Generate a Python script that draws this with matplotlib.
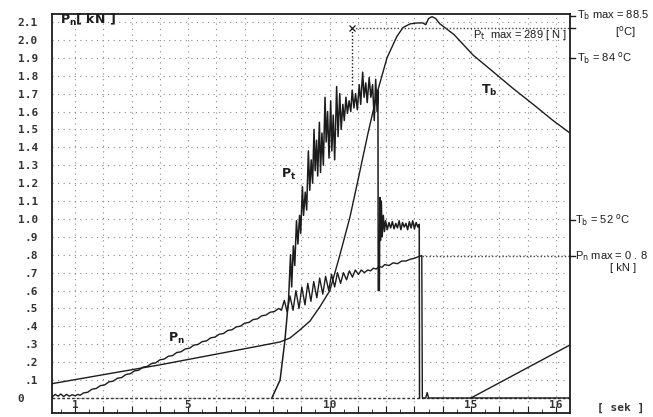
import matplotlib
matplotlib.use("Agg")
import matplotlib.pyplot as plt
import numpy as np

# time [s] on x; all curves drawn in the P_n [kN] scale of the recorder chart
tb_t = [0.19, 2.0, 4.0, 6.0, 7.5, 8.25, 8.6, 8.95, 9.31, 9.66, 10.01, 10.35, 10.72,
        11.05, 11.36, 11.71, 12.03, 12.38, 12.6, 12.85, 13.1, 13.3, 13.4, 13.5,
        13.62, 13.75, 13.9, 14.4, 15.07, 15.8, 16.48, 17.2, 17.9, 18.5]
tb_v = [0.080, 0.13, 0.185, 0.245, 0.29, 0.313, 0.335, 0.38, 0.43, 0.51, 0.60, 0.79, 1.01,
        1.25, 1.48, 1.72, 1.90, 2.02, 2.07, 2.09, 2.095, 2.095, 2.085, 2.12,
        2.13, 2.12, 2.09, 2.03, 1.916, 1.82, 1.73, 1.64, 1.55, 1.48]

# start of the next temperature cycle (bottom right)
tb2_t = [15.0, 18.5]
tb2_v = [0.0, 0.296]

pn_t = [0.19, 0.3, 0.4, 0.5, 0.6, 0.7, 0.8, 0.9, 1.0, 1.1, 1.18,
        1.30, 1.45, 1.60, 1.75, 1.90, 2.05, 2.20, 2.35, 2.50, 2.65, 2.80, 2.95,
        3.10, 3.25, 3.40, 3.55, 3.70, 3.85, 4.00, 4.15, 4.30, 4.45, 4.60, 4.75,
        4.90, 5.05, 5.20, 5.35, 5.50, 5.65, 5.80, 5.95, 6.10, 6.25, 6.40, 6.55,
        6.70, 6.85, 7.00, 7.15, 7.30, 7.45, 7.60, 7.75, 7.90, 8.05, 8.20,
        8.30, 8.40, 8.50, 8.60, 8.71, 8.81, 8.92, 9.02, 9.13, 9.23, 9.34, 9.44,
        9.55, 9.65, 9.76, 9.86, 9.97, 10.07, 10.18, 10.28, 10.39, 10.49, 10.60,
        10.70, 10.81, 10.91, 11.02, 11.12, 11.23,
        11.35, 11.45, 11.55, 11.65, 11.75, 11.85, 11.95, 12.1, 12.25, 12.4,
        12.55, 12.7, 12.85, 13.0, 13.15, 13.26, 13.28, 13.40, 13.45, 13.50, 18.5]
pn_v = [0.005, 0.02, 0.01, 0.022, 0.008, 0.02, 0.01, 0.018, 0.012, 0.02, 0.015,
        0.028, 0.032, 0.049, 0.053, 0.069, 0.073, 0.090, 0.094, 0.110, 0.114, 0.131, 0.135,
        0.151, 0.155, 0.172, 0.176, 0.192, 0.196, 0.213, 0.217, 0.233, 0.237, 0.254, 0.258,
        0.274, 0.278, 0.295, 0.299, 0.315, 0.319, 0.336, 0.340, 0.356, 0.360, 0.377, 0.381,
        0.397, 0.401, 0.418, 0.422, 0.438, 0.442, 0.459, 0.463, 0.479, 0.483, 0.500,
        0.49, 0.545, 0.48, 0.57, 0.49, 0.60, 0.50, 0.62, 0.52, 0.64, 0.54, 0.65,
        0.56, 0.67, 0.58, 0.68, 0.60, 0.69, 0.62, 0.70, 0.64, 0.70, 0.66,
        0.71, 0.675, 0.715, 0.69, 0.715, 0.70,
        0.715, 0.71, 0.725, 0.72, 0.735, 0.73, 0.745, 0.74, 0.755, 0.75,
        0.765, 0.765, 0.775, 0.78, 0.79, 0.795, 0.0, 0.0, 0.03, 0.0, 0.0]

pt_t = [7.96, 8.25, 8.42, 8.55, 8.62, 8.66, 8.72, 8.77, 8.83, 8.88, 8.94, 8.98,
        9.04, 9.08, 9.14, 9.19, 9.25, 9.30, 9.35, 9.40, 9.45, 9.49, 9.54, 9.58,
        9.64, 9.68, 9.73, 9.78, 9.84, 9.88, 9.93, 9.98, 10.04, 10.08, 10.13, 10.18,
        10.25, 10.30, 10.36, 10.41, 10.47, 10.52, 10.58, 10.63, 10.69, 10.75, 10.80,
        10.86, 10.92, 10.98, 11.05, 11.10, 11.17, 11.22, 11.28, 11.33, 11.40, 11.46,
        11.52, 11.58, 11.63, 11.68, 11.71, 11.72, 11.76, 11.78, 11.80, 11.83, 11.86,
        11.90, 11.94, 11.98, 12.04, 12.10, 12.16, 12.22, 12.28, 12.34, 12.40, 12.46,
        12.52, 12.58, 12.64, 12.70, 12.76, 12.82, 12.88, 12.94, 13.00, 13.06, 13.12,
        13.17, 13.18]
pt_v = [0.0, 0.10, 0.32, 0.55, 0.80, 0.62, 0.85, 0.74, 0.99, 0.86, 1.02, 0.92,
        1.18, 1.02, 1.15, 1.05, 1.38, 1.16, 1.33, 1.20, 1.50, 1.27, 1.44, 1.24,
        1.54, 1.26, 1.48, 1.30, 1.68, 1.43, 1.60, 1.34, 1.66, 1.38, 1.58, 1.33,
        1.74, 1.46, 1.70, 1.50, 1.64, 1.55, 1.68, 1.59, 1.66, 1.60, 1.72,
        1.62, 1.70, 1.61, 1.75, 1.64, 1.82, 1.68, 1.76, 1.65, 1.79, 1.68,
        1.75, 1.55, 1.78, 1.60, 1.72, 0.60, 0.60, 1.12, 0.88, 1.10, 0.90,
        1.02, 0.93, 0.99, 0.94, 0.98, 0.95, 0.985, 0.945, 0.975, 0.95, 0.99,
        0.94, 0.98, 0.955, 0.975, 0.94, 0.985, 0.95, 0.99, 0.945, 0.98, 0.955,
        0.97, 0.0]

pt_max_t, pt_max_mark, pt_max_curve = 10.79, 2.067, 1.74
pn_max_t, pn_max = 13.26, 0.793

y_ticks = [0.0, 0.1, 0.2, 0.3, 0.4, 0.5, 0.6, 0.7, 0.8, 0.9, 1.0,
           1.1, 1.2, 1.3, 1.4, 1.5, 1.6, 1.7, 1.8, 1.9, 2.0, 2.1]
y_labels = ["0  ", ".1", ".2", ".3", ".4", ".5", ".6", ".7", ".8", ".9", "1.0",
            "1.1", "1.2", "1.3", "1.4", "1.5", "1.6", "1.7", "1.8", "1.9", "2.0", "2.1"]
x_label_pos = [1, 5, 10, 15, 18]
x_labels = ["1", "5", "10", "15", "16"]

# right-hand marker positions (P_n scale)
right_marks = [2.134, 2.067, 1.90, 0.994, 0.793]

ink = "#1c1c1c"
mono = "DejaVu Sans Mono"
sans = "Liberation Sans"

fig = plt.figure(figsize=(6.53, 4.17), dpi=100)
ax = fig.add_axes([52 / 653, 4 / 417, 518 / 653, 399 / 417])
ax.set_xlim(0.187, 18.5)
ax.set_ylim(-0.084, 2.145)

# grid
ax.set_xticks(np.arange(1, 19))
ax.set_xticks(np.arange(0.5, 18.5, 0.5), minor=True)
ax.set_xticklabels([])
ax.set_yticks(y_ticks)
ax.set_yticklabels(y_labels, fontfamily=mono, fontsize=8, fontweight="bold", color="#333333")
ax.tick_params(axis="y", length=0, pad=10)
ax.tick_params(axis="x", which="major", direction="in", length=5, color=ink)
ax.tick_params(axis="x", which="minor", direction="in", length=3, color=ink)
ax.grid(True, which="major", color="#8a8a8a", linestyle=(0, (1, 4)), linewidth=0.8)
for s in ax.spines.values():
    s.set_color(ink)
    s.set_linewidth(1.3)

ax.axhline(0, color="#333333", linestyle=(0, (2, 1.5)), linewidth=1.0)

for t, lab in zip(x_label_pos, x_labels):
    ax.text(t, -0.042, lab, ha="center", va="center", fontfamily=mono,
            fontsize=8, fontweight="bold", color="#333333")

# curves
ax.plot(tb_t, tb_v, color=ink, linewidth=1.0)
ax.plot(tb2_t, tb2_v, color=ink, linewidth=1.0)
ax.plot(pn_t, pn_v, color=ink, linewidth=1.0)
ax.plot(pt_t, pt_v, color=ink, linewidth=1.1)

# max markers
ax.plot([pt_max_t], [pt_max_mark], marker="x", markersize=5, color=ink, mew=0.9)
ax.plot([pt_max_t, pt_max_t], [pt_max_mark, pt_max_curve], color=ink,
        linestyle=(0, (1, 1.5)), linewidth=1.0)
ax.plot([pt_max_t, 18.5], [pt_max_mark, pt_max_mark], color="#444444",
        linestyle=(0, (1, 1.5)), linewidth=1.0)
ax.plot([pn_max_t, 18.5], [pn_max, pn_max], color="#444444",
        linestyle=(0, (1, 1.5)), linewidth=1.0)

# curve labels
lbl = dict(fontsize=9, fontweight="bold", color=ink, ha="left", va="center")
ax.text(0.47, 2.11, r"P$_\mathbf{n}$[ kN ]", **lbl)
ax.text(8.3, 1.25, r"P$_\mathbf{t}$", **lbl)
ax.text(4.3, 0.335, r"P$_\mathbf{n}$", **lbl)
ax.text(15.35, 1.72, r"T$_\mathbf{b}$", **lbl)

# right side annotations
tr = ax.get_yaxis_transform()
for y in right_marks:
    ax.plot([1.0, 1.01], [y, y], transform=tr, color=ink, linewidth=1.0, clip_on=False)

ann = dict(fontfamily=sans, fontsize=8, color=ink, va="center", transform=tr)
ax.text(1.014, 2.138, r"T$_\mathrm{b}$ max = 88.5", ha="left", **ann)
ax.text(1.127, 2.045, r"[$^\mathrm{o}$C]", ha="right", **ann)
ax.text(0.994, 2.03, r"P$_\mathrm{t}$  max = 289 [ N ]", ha="right", **ann)
ax.text(1.014, 1.90, r"T$_\mathrm{b}$ = 84 $^\mathrm{o}$C", ha="left", **ann)
ax.text(1.009, 0.994, r"T$_\mathrm{b}$ = 52 $^\mathrm{o}$C", ha="left", **ann)
ax.text(1.009, 0.793, r"P$_\mathrm{n}$ max = 0 . 8", ha="left", **ann)
ax.text(1.127, 0.726, "[ kN ]", ha="right", **ann)

fig.text(0.914, 0.022, "[ sek ]", fontfamily=mono, fontsize=8, fontweight="bold",
         color="#333333", ha="left", va="center")

fig.savefig("out.png", dpi=100)
